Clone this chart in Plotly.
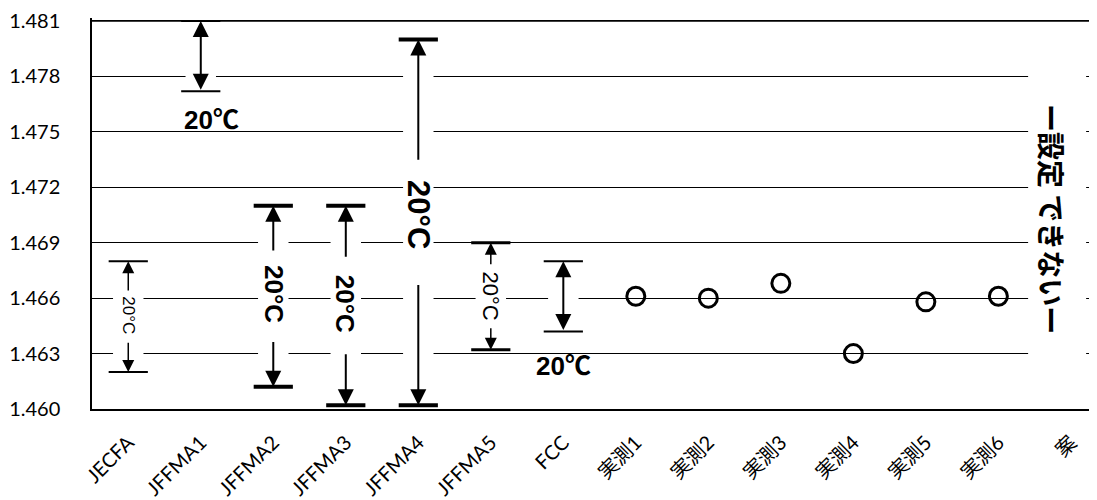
import plotly.graph_objects as go

# ---------------- data ----------------
categories = ["JECFA", "JFFMA1", "JFFMA2", "JFFMA3", "JFFMA4", "JFFMA5", "FCC",
              "実測1", "実測2", "実測3", "実測4", "実測5", "実測6", "案"]

range_names = ["JECFA", "JFFMA1", "JFFMA2", "JFFMA3", "JFFMA4", "JFFMA5", "FCC"]
range_top = [1.4680, 1.4810, 1.4710, 1.4710, 1.4800, 1.4690, 1.4680]
range_bottom = [1.4620, 1.4772, 1.4612, 1.4602, 1.4602, 1.4632, 1.4642]
range_label = "20℃"

measured_names = ["実測1", "実測2", "実測3", "実測4", "実測5", "実測6"]
measured_values = [1.4661, 1.4660, 1.4668, 1.4630, 1.4658, 1.4661]

note_name = "案"
note_text = "ー設定 できないー"

y_ticks = [1.460, 1.463, 1.466, 1.469, 1.472, 1.475, 1.478, 1.481]

# ---------------- styles ----------------
# the page body adds an 8px margin, so the figure is 8px smaller than the window
W, H = 1089, 492
Y_MIN, Y_MAX = 1.460, 1.481
PX_PER_UNIT = 394 / (Y_MAX - Y_MIN)
PAD_PX = 3  # room above the top gridline so it is not clipped away
Y_PAD = PAD_PX / PX_PER_UNIT
M_L, M_T, M_B = 84, 10 - PAD_PX, 88
X_MIN, X_MAX = -0.5, 13.36
du = 1 / PX_PER_UNIT  # data units per pixel

label_mode = ["inline", "below", "inline", "inline", "inline", "inline", "below"]
label_size = [17, 26, 26, 26, 31, 22, 26]
label_bold = [False, True, True, True, True, False, True]
label_gap_px = [25, 0, 45, 48, 62, 31, 0]
label_shift = [(0, 1), (11, -29), (0, 2), (0, 2), (0, 8), (0, 0), (0, -35)]
cap_thick = [2, 2, 4, 4, 4, 3, 2]
arrow_w = [1.5, 2, 2, 2, 2, 1.5, 2]
CAP_W = 28
GAP_HALF = 0.21

xi = {c: i for i, c in enumerate(categories)}
FONT = "Lato, 'Noto Sans CJK JP', sans-serif"
BFONT = "'Liberation Sans', Arial, 'Noto Sans CJK JP', sans-serif"

fig = go.Figure()

shapes = []
annotations = []

# white gaps in gridlines behind arrows
for n, t, b in zip(range_names, range_top, range_bottom):
    i = xi[n]
    shapes.append(dict(type="rect", xref="x", yref="y", x0=i - GAP_HALF, x1=i + GAP_HALF,
                       y0=b, y1=min(t, Y_MAX - 0.0002), fillcolor="white",
                       line=dict(width=0), layer="between"))
ni = xi[note_name]
shapes.append(dict(type="rect", xref="x", yref="y", x0=ni - 0.59, x1=ni + 0.21,
                   y0=Y_MIN + 0.0002, y1=Y_MAX - 0.0002, fillcolor="white",
                   line=dict(width=0), layer="between"))
# top gridline at the highest tick (plotly drops gridlines near the plot edge)
shapes.append(dict(type="line", xref="paper", yref="y", x0=0, x1=1,
                   y0=y_ticks[-1], y1=y_ticks[-1], line=dict(color="black", width=1.5),
                   layer="between"))


def arrow(x, y_head, y_tail, width, both=False):
    return dict(x=x, y=y_head, ax=x, ay=y_tail, xref="x", yref="y", axref="x", ayref="y",
                text="", showarrow=True, arrowhead=2, arrowsize=1.6, arrowwidth=width,
                arrowcolor="black", arrowside="end+start" if both else "end",
                startarrowhead=2, startarrowsize=1.6, standoff=0, startstandoff=0)


for k, (n, t, b) in enumerate(zip(range_names, range_top, range_bottom)):
    i = xi[n]
    fam = BFONT
    dx, dy = label_shift[k]
    if label_mode[k] == "below":
        txt = f"<b>{range_label}</b>" if label_bold[k] else range_label
        annotations.append(arrow(i, t, b, arrow_w[k], both=True))
        annotations.append(dict(x=i, y=b, xref="x", yref="y", text=txt, showarrow=False,
                                xshift=dx, yshift=dy, yanchor="middle",
                                font=dict(family=fam, size=label_size[k], color="black")))
    else:
        lab = range_label.replace("℃", "°C")
        txt = f"<b>{lab}</b>" if label_bold[k] else lab
        mid = (t + b) / 2
        g = label_gap_px[k] * du
        annotations.append(arrow(i, t, mid + g, arrow_w[k]))
        annotations.append(arrow(i, b, mid - g, arrow_w[k]))
        annotations.append(dict(x=i, y=mid, xref="x", yref="y", text=txt,
                                showarrow=False, textangle=90, yshift=dy,
                                font=dict(family=fam, size=label_size[k], color="black")))

# note text for 案 column
annotations.append(dict(x=ni - 0.25, y=(Y_MIN + Y_MAX) / 2 - 0.0002, xref="x", yref="y",
                        text=f"<b>{note_text}</b>", showarrow=False, textangle=90,
                        font=dict(family="'Noto Sans CJK JP'", size=28, color="black")))

# caps
cap_x = [xi[n] for n in range_names] * 2
cap_y = range_top + range_bottom
fig.add_trace(go.Scatter(x=cap_x, y=cap_y, mode="markers", hoverinfo="skip",
                         marker=dict(symbol="line-ew", size=CAP_W, color="black",
                                     line=dict(width=cap_thick + cap_thick, color="black")),
                         showlegend=False, cliponaxis=False))

# measured points
fig.add_trace(go.Scatter(x=[xi[n] for n in measured_names], y=measured_values, mode="markers",
                         marker=dict(symbol="circle-open", size=18, color="black",
                                     line=dict(width=3, color="black")),
                         showlegend=False, cliponaxis=False))

fig.update_layout(
    width=W, height=H,
    margin=dict(l=M_L, r=0, t=M_T, b=M_B, pad=0),
    paper_bgcolor="white", plot_bgcolor="white",
    shapes=shapes, annotations=annotations,
    showlegend=False,
)
fig.update_xaxes(range=[X_MIN, X_MAX], tickmode="array", tickvals=list(range(len(categories))),
                 ticktext=categories, tickangle=-45, showgrid=False, zeroline=False,
                 showline=True, linecolor="black", linewidth=2, ticks="",
                 ticklabelstandoff=12, ticklabeloverflow="allow",
                 tickfont=dict(family=FONT, size=20, color="black"))
fig.update_yaxes(range=[Y_MIN, Y_MAX + Y_PAD], tickmode="array", tickvals=y_ticks,
                 tickformat=".3f", ticklabeloverflow="allow",
                 showgrid=True, gridcolor="black", gridwidth=1, zeroline=False,
                 showline=True, linecolor="black", linewidth=1.5, ticks="",
                 ticklabelstandoff=26,
                 tickfont=dict(family=FONT, size=20, color="black"))

fig.write_html("out.html")
